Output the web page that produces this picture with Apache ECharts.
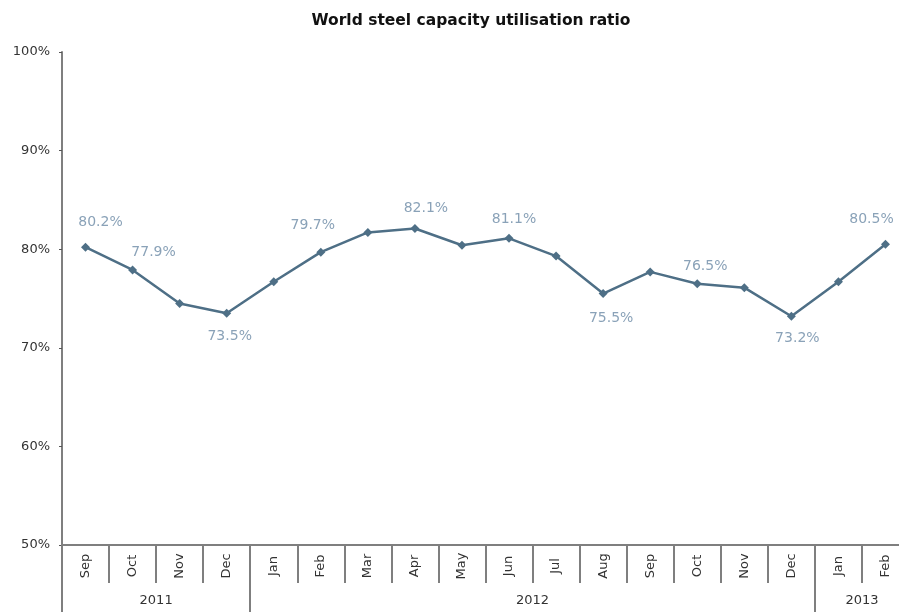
<!DOCTYPE html>
<html>
<head>
<meta charset="utf-8">
<script src="https://cdn.jsdelivr.net/npm/echarts@6/dist/echarts.min.js"></script>
<style>html,body{margin:0;padding:0;background:#fff;}#c{width:899px;height:612px;}</style>
</head>
<body>
<div id="c"></div>
<script>
var months = ['Sep','Oct','Nov','Dec','Jan','Feb','Mar','Apr','May','Jun','Jul','Aug','Sep','Oct','Nov','Dec','Jan','Feb'];
var values = [80.2, 77.9, 74.5, 73.5, 76.7, 79.7, 81.7, 82.1, 80.4, 81.1, 79.3, 75.5, 77.7, 76.5, 76.1, 73.2, 76.7, 80.5];
var years = ['2011','2012','2013'];
var yearSpans = [4, 12, 2];
var yTicks = [50, 60, 70, 80, 90, 100];

// label placement per labelled point (index -> [position, dx, dy])
var labelCfg = {
  0: ['top', 15, -8],
  1: ['top', 21, -1],
  3: ['bottom', 3, 7],
  5: ['top', -8, -10],
  7: ['top', 11, -4],
  9: ['top', 5, -2],
  11: ['bottom', 8, 8],
  13: ['top', 8, -1],
  15: ['bottom', 6, 6],
  17: ['top', -14, -8]
};

var seriesData = values.map(function (v, i) {
  var d = { value: v };
  if (labelCfg[i]) {
    d.label = {
      show: true,
      position: labelCfg[i][0],
      offset: [labelCfg[i][1], labelCfg[i][2]],
      formatter: function (p) { return p.value.toFixed(1) + '%'; }
    };
  }
  return d;
});

var yearBounds = [0];
var yearMids = [];
var acc = 0;
yearSpans.forEach(function (s) { yearMids.push(acc + s / 2); acc += s; yearBounds.push(acc); });

var FONT = 'DejaVu Sans, Verdana, sans-serif';
var chart = echarts.init(document.getElementById('c'));
chart.setOption({
  animation: false,
  backgroundColor: '#fff',
  title: {
    text: 'World steel capacity utilisation ratio',
    left: 466, top: 8, textAlign: 'center',
    textStyle: { fontFamily: FONT, fontWeight: 'bold', fontSize: 15.5, color: '#111' }
  },
  grid: { left: 62, width: 847, top: 52, bottom: 67, containLabel: false, outerBoundsMode: 'none' },
  xAxis: [{
    type: 'category',
    data: months,
    boundaryGap: true,
    axisLine: { show: true, lineStyle: { color: '#7f7f7f', width: 2 } },
    axisTick: { show: true, interval: 0, length: 38, lineStyle: { color: '#7f7f7f', width: 2 } },
    axisLabel: {
      interval: 0, rotate: 90, align: 'center', verticalAlign: 'middle', margin: 21,
      fontFamily: FONT, fontSize: 13, color: '#333'
    },
    splitLine: { show: false }
  }, {
    type: 'value',
    position: 'bottom',
    min: 0, max: months.length,
    axisLine: { show: false },
    axisTick: { show: true, customValues: yearBounds.slice(0, yearBounds.length - 1), length: 67, inside: false, lineStyle: { color: '#7f7f7f', width: 2 } },
    axisLabel: {
      customValues: yearMids, margin: 49,
      formatter: function (v) { var idx = yearMids.indexOf(v); return idx >= 0 ? years[idx] : ''; },
      fontFamily: FONT, fontSize: 13, color: '#333'
    },
    splitLine: { show: false }
  }],
  yAxis: {
    type: 'value', min: 50, max: 100, interval: 10,
    axisLine: { show: true, lineStyle: { color: '#7f7f7f', width: 2 } },
    axisTick: { show: true, length: 3, lineStyle: { color: '#555', width: 1 } },
    axisLabel: {
      margin: 12, formatter: '{value}%',
      fontFamily: FONT, fontSize: 13, color: '#333'
    },
    splitLine: { show: false }
  },
  series: [{
    type: 'line',
    xAxisIndex: 0,
    data: seriesData,
    symbol: 'diamond',
    symbolSize: 9,
    lineStyle: { color: '#4e6f86', width: 2.5 },
    itemStyle: { color: '#4e6f86' },
    label: {
      show: false,
      fontFamily: FONT, fontSize: 14, color: '#8aa2b8'
    }
  }]
});
</script>
</body>
</html>
